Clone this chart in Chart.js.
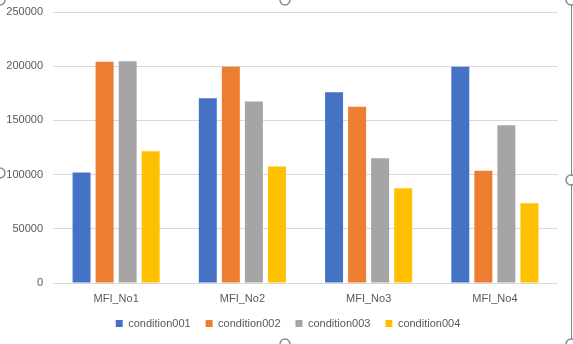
<!DOCTYPE html>
<html>
<head>
<meta charset="utf-8">
<script src="https://cdn.jsdelivr.net/npm/chart.js@4"></script>
<style>
  html, body { margin: 0; padding: 0; background: #fff; }
  #wrap { width: 573px; height: 344px; position: relative; }
</style>
</head>
<body>
<div id="wrap"><canvas id="myChart"></canvas></div>
<script>
const categories = ["MFI_No1", "MFI_No2", "MFI_No3", "MFI_No4"];
const seriesNames = ["condition001", "condition002", "condition003", "condition004"];
const condition001 = [102000, 170500, 176000, 199500];
const condition002 = [204000, 199500, 162500, 103500];
const condition003 = [204500, 167500, 115000, 145500];
const condition004 = [121500, 107500, 87500, 73500];
const colors = ["#4472C4", "#ED7D31", "#A5A5A5", "#FFC000"];
const yTicks = [0, 50000, 100000, 150000, 200000, 250000];

const ctx = document.getElementById("myChart");
const allSeries = [condition001, condition002, condition003, condition004];

// selection frame like the excel screenshot
const framePlugin = {
  id: "frame",
  afterLayout(chart) {
    // legend sits a bit right of centre in the original
    chart.legend.left += 9;
    chart.legend.right += 9;
  },
  afterDraw(chart) {
    const c = chart.ctx;
    c.save();
    c.strokeStyle = "#8a8a8a";
    c.lineWidth = 1;
    c.beginPath();
    c.moveTo(571.5, 4);
    c.lineTo(571.5, 340);
    c.stroke();
    const handles = [[0, 0], [285, 0], [571, 0], [0, 173], [571, 180], [285, 344], [571, 344]];
    handles.forEach(([x, y]) => {
      c.beginPath();
      c.arc(x, y, 5, 0, Math.PI * 2);
      c.fillStyle = "#fff";
      c.fill();
      c.lineWidth = 1.5;
      c.stroke();
    });
    c.restore();
  },
};

new Chart(ctx, {
  type: "bar",
  data: {
    labels: categories,
    datasets: seriesNames.map((name, i) => ({
      label: name,
      data: allSeries[i],
      backgroundColor: colors[i],
      categoryPercentage: 0.73,
      barPercentage: 0.78,
    })),
  },
  options: {
    responsive: true,
    maintainAspectRatio: false,
    animation: false,
    devicePixelRatio: 1,
    layout: { padding: { left: 0, right: 15, top: 12, bottom: 5 } },
    plugins: {
      tooltip: { enabled: false },
      legend: {
        position: "bottom",
        labels: {
          boxWidth: 7,
          boxHeight: 7,
          padding: 15,
          color: "#595959",
          font: { family: "Liberation Sans", size: 11 },
        },
      },
    },
    scales: {
      x: {
        grid: { display: false },
        border: { display: false },
        afterFit(axis) {
          axis.height = 20;
          // labels hang a little below the squeezed axis box, don't clip them
          axis._computeLabelArea = () => null;
        },
        ticks: {
          color: "#595959",
          padding: 1,
          font: { family: "Liberation Sans", size: 11 },
        },
      },
      y: {
        min: 0,
        max: 250000,
        afterBuildTicks(axis) {
          axis.ticks = yTicks.map((v) => ({ value: v }));
        },
        afterFit(axis) {
          axis.width = 53;
          axis.paddingTop = 0;
          axis.paddingBottom = 0;
        },
        grid: { color: "#D9D9D9", drawTicks: false },
        border: { display: false },
        ticks: {
          color: "#595959",
          padding: 10,
          font: { family: "Liberation Sans", size: 11 },
          callback: (v) => String(v),
        },
      },
    },
  },
  plugins: [framePlugin],
});
</script>
</body>
</html>
